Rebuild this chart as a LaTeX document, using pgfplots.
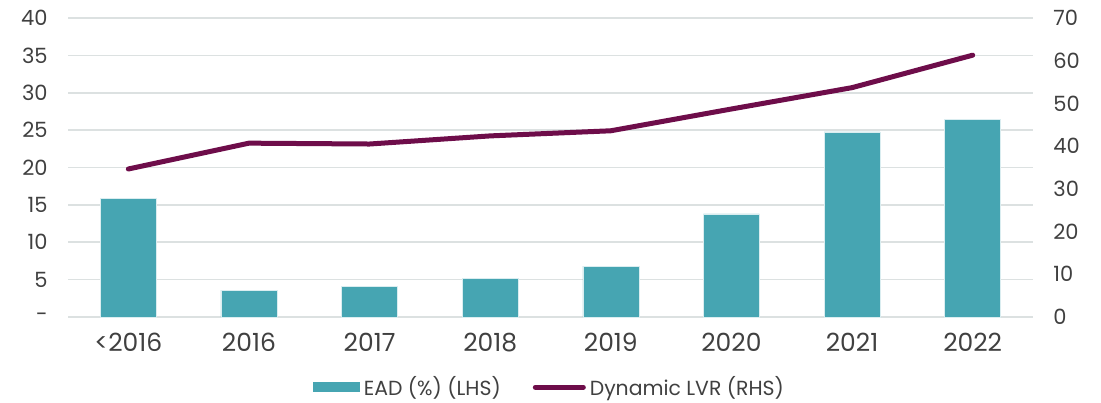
\documentclass[border=0pt]{standalone}
\usepackage{pgfplots}
\pgfplotsset{compat=1.18}
\usepackage{fontspec}
\setmainfont{Poppins}
\definecolor{teal}{HTML}{46A5B2}
\definecolor{maroon}{HTML}{6E0D4A}
\definecolor{txt}{HTML}{404040}
\definecolor{grd}{HTML}{DCE1E1}
\begin{document}
\begin{tikzpicture}
\useasboundingbox (-34pt,-42.5pt) rectangle (516.5pt,158.5pt);
\pgfplotsset{every axis/.append style={
  scale only axis, width=482.5pt, height=149.5pt,
  xmin=-0.5, xmax=7.5,
  font=\fontsize{9.5}{11}\selectfont, 
  tick label style={text=txt, font=\fontsize{10.5}{12}\selectfont},
  /pgf/number format/assume math mode=true,
}}
\begin{axis}[
  ymin=0, ymax=40, ytick={0,5,...,40},
  yticklabels={-,5,10,15,20,25,30,35,40},
  axis y line*=left, axis x line*=bottom,
  y axis line style={draw=none},
  x axis line style={draw=grd, line width=0.8pt},
  ymajorgrids, grid style={grd, line width=0.8pt},
  major tick length=0pt,
  ytick style={draw=none},
  xtick={0,...,7},
  xticklabels={<2016,2016,2017,2018,2019,2020,2021,2022},
  xtick style={draw=none},
  extra x ticks={-0.5,0.5,1.5,2.5,3.5,4.5,5.5,6.5,7.5},
  extra x tick labels={},
  extra x tick style={major tick length=3pt, tick style={draw=grd, line width=0.8pt}, tick align=outside, grid=none},
  yticklabel style={inner sep=0pt, anchor=east, xshift=-10pt},
  xticklabel style={inner sep=0pt, anchor=north, yshift=-8pt, font=\fontsize{12.5}{14}\selectfont},
]
\addplot[ybar, bar width=28pt, fill=teal, draw=white!80!teal, line width=0.3pt] coordinates {
(0,15.9) (1,3.6) (2,4.05) (3,5.2) (4,6.8) (5,13.8) (6,24.75) (7,26.4)};
\end{axis}
\begin{axis}[
  ymin=0, ymax=70, ytick={0,10,...,70},
  axis y line*=right, hide x axis,
  y axis line style={draw=none},
  major tick length=0pt, ytick style={draw=none},
  yticklabel style={inner sep=0pt, anchor=west, xshift=10pt},
  legend columns=2,
  legend style={at={(0.5,-0.235)}, anchor=center, draw=none, fill=none,
    font=\fontsize{10.2}{11}\selectfont, text=txt, inner sep=1pt,
    /tikz/every even column/.append style={column sep=14pt}},
]
\addlegendimage{legend image code/.code={\fill[teal] (0pt,-2.3pt) rectangle (23pt,2.3pt);}}
\addlegendentry{EAD (\%) (LHS)}
\addplot[maroon, line width=2.5pt, line cap=round, line join=round,
  legend image code/.code={\draw[maroon, line width=2.5pt, line cap=round] (1pt,0pt) -- (25pt,0pt);}] coordinates {
(0,34.65) (1,40.7) (2,40.5) (3,42.4) (4,43.6) (5,48.7) (6,53.7) (7,61.3)};
\addlegendentry{Dynamic LVR (RHS)}
\end{axis}
\end{tikzpicture}
\end{document}
